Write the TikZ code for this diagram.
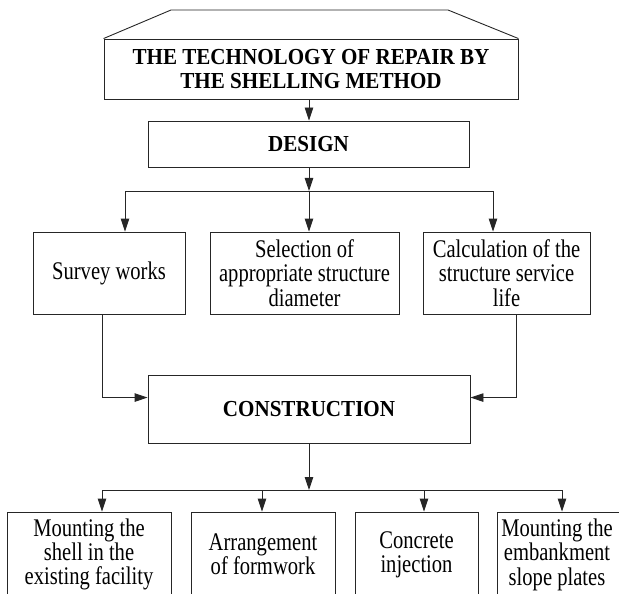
\documentclass[tikz,border=0pt]{standalone}
\usepackage{fontspec}
\setmainfont{Liberation Serif}[FakeStretch=0.81]
\newfontfamily\boldtitle{Liberation Serif}[FakeStretch=0.92]
\usetikzlibrary{arrows.meta,calc}
\begin{document}
\begin{tikzpicture}[x=1bp,y=-1bp,
  line width=0.9bp, draw=black!85,
  arr/.style={-{Triangle[length=13bp,width=8.5bp]}},
  box/.style={draw,inner sep=0pt,align=center,font=\fontsize{25.5}{24.5}\selectfont},
  bbox/.style={draw,inner sep=0pt,align=center,font=\boldtitle\bfseries\fontsize{23}{24}\selectfont}]
\useasboundingbox (0,0) rectangle (619,594);
\clip (0,0) rectangle (619,594);
% title
\node[bbox,minimum width=414bp,minimum height=60bp] (title) at (311,69) {THE TECHNOLOGY OF REPAIR BY\\THE SHELLING METHOD};
\coordinate (tl) at (171,10);
\coordinate (tr) at (448,10);
\draw (title.north west) -- (tl) -- (tr) -- (title.north east);
% design
\node[bbox,minimum width=321bp,minimum height=46bp] (design) at (308.5,144) {DESIGN};
\draw[arr] (title.south -| 309,0) -- (design.north -| 309,0);
% second row
\node[box,minimum width=152bp,minimum height=82bp] (survey) at (109,273) {Survey works};
\node[box,minimum width=189bp,minimum height=82bp] (sel) at (304.5,273) {Selection of\\appropriate structure\\diameter};
\node[box,minimum width=167bp,minimum height=82bp] (calc) at (506.5,273) {Calculation of the\\structure service\\life};
\coordinate (j1) at (309,191);
\draw[arr] (design.south -| j1) -- (j1);
\draw[arr] (j1) -- (sel.north -| j1);
\draw[arr] (j1) -| ($(survey.north)+(16,0)$);
\draw[arr] (j1) -| ($(calc.north)+(-13.5,0)$);
% construction
\node[bbox,minimum width=322bp,minimum height=68bp] (constr) at (309,409) {CONSTRUCTION};
\draw[arr] ($(survey.south)+(-7,0)$) |- ($(constr.north west)+(0,23)$);
\draw[arr] ($(calc.south)+(9.5,0)$) |- ($(constr.north east)+(0,23)$);
% bottom row
\node[box,minimum width=164bp,minimum height=85bp] (b1) at (89,554.5) {Mounting the\\shell in the\\existing facility};
\node[box,minimum width=144bp,minimum height=85bp] (b2) at (263,554.5) {Arrangement\\of formwork};
\node[box,minimum width=123bp,minimum height=85bp] (b3) at (416.5,554.5) {Concrete\\injection};
\node[draw,inner sep=0pt,minimum width=128bp,minimum height=85bp] (b4) at (561,554.5) {};
\node[box,draw=none] (b4t) at (557,554.5) {Mounting the\\embankment\\slope plates};
\coordinate (j2) at (309,490);
\draw[arr] (constr.south -| j2) -- (j2);
\draw[arr] (j2) -| ($(b1.north)+(13,0)$);
\draw[arr] (j2) -| ($(b2.north)+(-1,0)$);
\draw[arr] (j2) -| ($(b3.north)+(7.5,0)$);
\draw[arr] (j2) -| ($(b4.north)+(1,0)$);
\end{tikzpicture}
\end{document}
